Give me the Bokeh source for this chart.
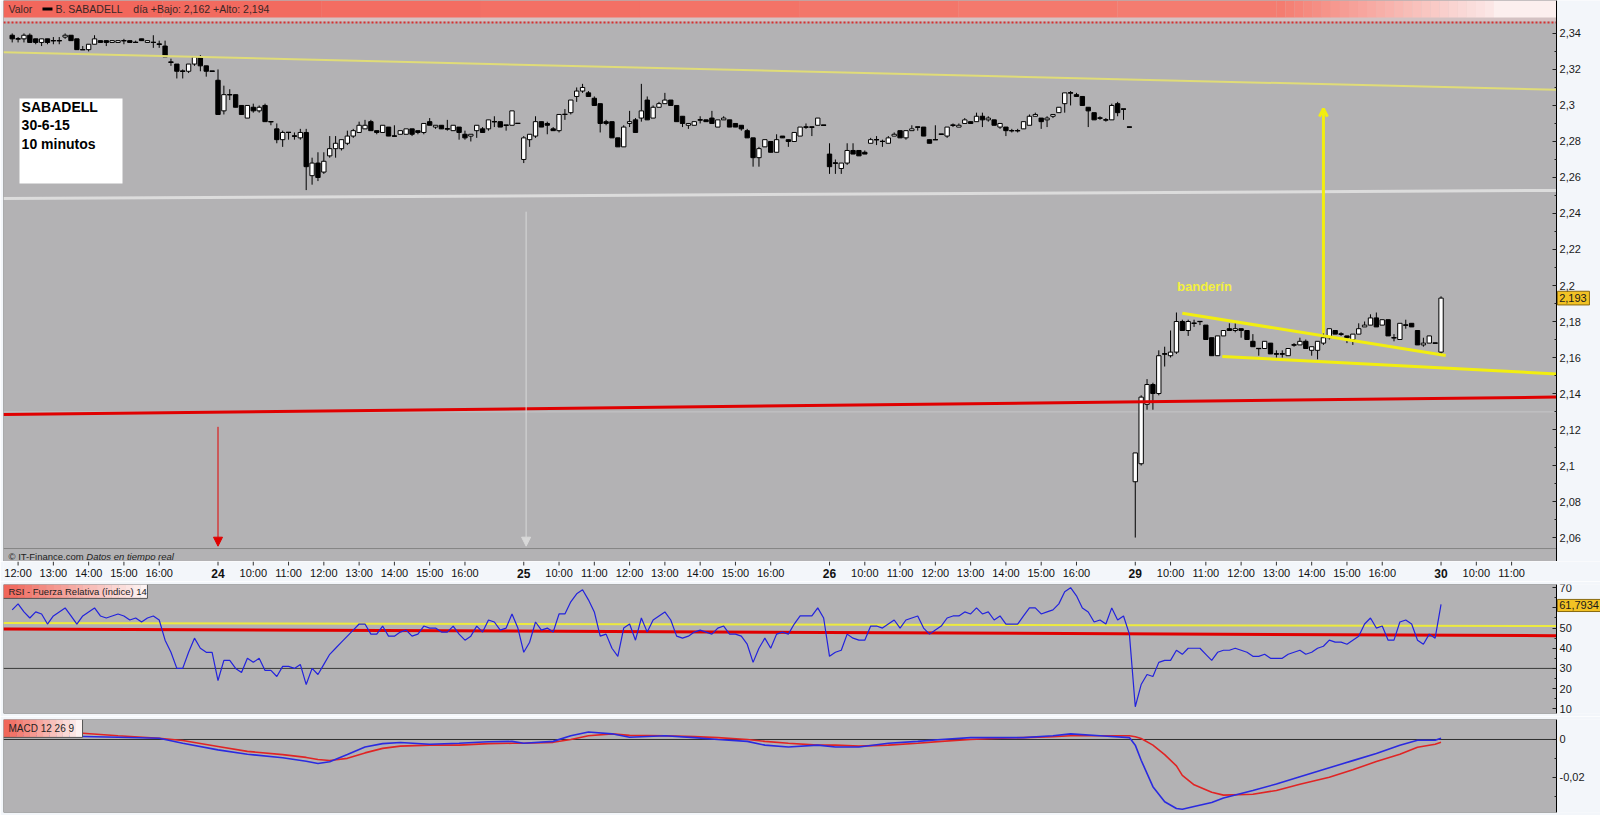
from bokeh.plotting import figure
from bokeh.layouts import column
from bokeh.models import (Range1d, FixedTicker, CustomJSTickFormatter, Arrow, NormalHead, OpenHead,
                          ColumnDataSource)
from bokeh.core.properties import value
from bokeh.embed import file_html
from bokeh.resources import INLINE

# ---------------------------------------------------------------- data
# 10-minute candles (open, high, low, close)
bars_jun23 = [
    (2.339, 2.340, 2.335, 2.337), (2.337, 2.338, 2.335, 2.337), (2.337, 2.340, 2.335, 2.339),
    (2.339, 2.340, 2.335, 2.335), (2.337, 2.337, 2.334, 2.335), (2.335, 2.337, 2.333, 2.337),
    (2.337, 2.337, 2.334, 2.335), (2.336, 2.338, 2.334, 2.336), (2.336, 2.338, 2.334, 2.336),
    (2.338, 2.340, 2.337, 2.339), (2.339, 2.339, 2.336, 2.336), (2.337, 2.337, 2.331, 2.331),
    (2.331, 2.333, 2.331, 2.331), (2.331, 2.334, 2.330, 2.334), (2.334, 2.339, 2.334, 2.337),
    (2.336, 2.336, 2.335, 2.335), (2.336, 2.336, 2.333, 2.335), (2.335, 2.336, 2.335, 2.336),
    (2.335, 2.336, 2.335, 2.336), (2.336, 2.337, 2.334, 2.336), (2.336, 2.336, 2.335, 2.335),
    (2.335, 2.336, 2.335, 2.335), (2.337, 2.337, 2.336, 2.336), (2.335, 2.336, 2.335, 2.336),
    (2.335, 2.339, 2.332, 2.335), (2.334, 2.336, 2.332, 2.334), (2.333, 2.336, 2.327, 2.327),
    (2.324, 2.326, 2.322, 2.324), (2.323, 2.323, 2.315, 2.319), (2.319, 2.320, 2.315, 2.319),
    (2.319, 2.323, 2.318, 2.323), (2.323, 2.327, 2.322, 2.327), (2.327, 2.328, 2.319, 2.322),
    (2.322, 2.322, 2.316, 2.319), (2.319, 2.319, 2.319, 2.319),
]
bars_jun24 = [
    (2.314, 2.320, 2.295, 2.295), (2.297, 2.311, 2.295, 2.306), (2.306, 2.309, 2.303, 2.306),
    (2.306, 2.306, 2.299, 2.299), (2.300, 2.300, 2.295, 2.295), (2.293, 2.300, 2.293, 2.300),
    (2.299, 2.301, 2.296, 2.297), (2.297, 2.300, 2.296, 2.299), (2.300, 2.301, 2.291, 2.291),
    (2.291, 2.291, 2.289, 2.291), (2.287, 2.290, 2.279, 2.281), (2.281, 2.286, 2.277, 2.285),
    (2.285, 2.285, 2.281, 2.285), (2.283, 2.285, 2.281, 2.283), (2.282, 2.287, 2.281, 2.285),
    (2.285, 2.287, 2.253, 2.266), (2.261, 2.271, 2.256, 2.268), (2.268, 2.274, 2.258, 2.260),
    (2.263, 2.274, 2.262, 2.269), (2.272, 2.283, 2.271, 2.276), (2.276, 2.283, 2.271, 2.279),
    (2.276, 2.281, 2.275, 2.281), (2.279, 2.286, 2.278, 2.283), (2.283, 2.287, 2.282, 2.286),
    (2.285, 2.291, 2.285, 2.289), (2.287, 2.292, 2.287, 2.289), (2.291, 2.292, 2.286, 2.286),
    (2.286, 2.286, 2.284, 2.285), (2.285, 2.289, 2.285, 2.289), (2.288, 2.288, 2.283, 2.283),
    (2.283, 2.289, 2.283, 2.283), (2.284, 2.286, 2.284, 2.286), (2.284, 2.287, 2.284, 2.287),
    (2.287, 2.287, 2.283, 2.284), (2.286, 2.286, 2.284, 2.285), (2.285, 2.290, 2.284, 2.290),
    (2.291, 2.293, 2.289, 2.289), (2.288, 2.289, 2.287, 2.289), (2.289, 2.289, 2.287, 2.287),
    (2.287, 2.292, 2.286, 2.287), (2.286, 2.289, 2.286, 2.289), (2.288, 2.288, 2.281, 2.285),
    (2.284, 2.286, 2.281, 2.282), (2.283, 2.284, 2.280, 2.284), (2.286, 2.289, 2.282, 2.289),
    (2.287, 2.288, 2.285, 2.285), (2.287, 2.292, 2.286, 2.292), (2.291, 2.294, 2.288, 2.291),
    (2.291, 2.291, 2.288, 2.288), (2.289, 2.289, 2.286, 2.289), (2.289, 2.297, 2.289, 2.297),
    (2.290, 2.290, 2.290, 2.290),
]
bars_jun25 = [
    (2.270, 2.283, 2.268, 2.282), (2.281, 2.284, 2.277, 2.284), (2.283, 2.294, 2.282, 2.291),
    (2.291, 2.291, 2.288, 2.288), (2.290, 2.291, 2.284, 2.289), (2.287, 2.288, 2.286, 2.286),
    (2.286, 2.295, 2.285, 2.295), (2.295, 2.298, 2.292, 2.295), (2.296, 2.303, 2.295, 2.303),
    (2.305, 2.310, 2.302, 2.308), (2.308, 2.312, 2.307, 2.310), (2.307, 2.308, 2.305, 2.305),
    (2.304, 2.305, 2.300, 2.300), (2.301, 2.301, 2.285, 2.290), (2.291, 2.292, 2.289, 2.290),
    (2.291, 2.291, 2.282, 2.282), (2.282, 2.282, 2.277, 2.277), (2.277, 2.289, 2.277, 2.288),
    (2.290, 2.297, 2.288, 2.291), (2.292, 2.293, 2.285, 2.285), (2.293, 2.312, 2.291, 2.297),
    (2.303, 2.305, 2.292, 2.292), (2.293, 2.300, 2.293, 2.299), (2.299, 2.302, 2.299, 2.301),
    (2.301, 2.307, 2.301, 2.303), (2.303, 2.303, 2.300, 2.300), (2.300, 2.300, 2.291, 2.291),
    (2.294, 2.294, 2.288, 2.290), (2.289, 2.290, 2.287, 2.290), (2.289, 2.291, 2.289, 2.291),
    (2.292, 2.294, 2.290, 2.292), (2.292, 2.292, 2.291, 2.291), (2.293, 2.297, 2.290, 2.290),
    (2.288, 2.292, 2.288, 2.292), (2.292, 2.294, 2.292, 2.293), (2.292, 2.292, 2.288, 2.288),
    (2.290, 2.290, 2.288, 2.288), (2.289, 2.289, 2.286, 2.287), (2.286, 2.287, 2.282, 2.282),
    (2.282, 2.282, 2.266, 2.271), (2.271, 2.277, 2.266, 2.276), (2.277, 2.281, 2.277, 2.281),
    (2.280, 2.280, 2.274, 2.274), (2.274, 2.284, 2.274, 2.281), (2.283, 2.283, 2.282, 2.282),
    (2.281, 2.281, 2.277, 2.280), (2.280, 2.285, 2.280, 2.285), (2.283, 2.288, 2.283, 2.288),
    (2.288, 2.290, 2.287, 2.288), (2.288, 2.288, 2.283, 2.288), (2.289, 2.293, 2.289, 2.293),
    (2.289, 2.289, 2.289, 2.289),
]
bars_jun26 = [
    (2.273, 2.279, 2.262, 2.266), (2.268, 2.270, 2.262, 2.268), (2.265, 2.268, 2.262, 2.268),
    (2.268, 2.279, 2.267, 2.275), (2.275, 2.279, 2.273, 2.273), (2.275, 2.275, 2.272, 2.272),
    (2.274, 2.275, 2.273, 2.273), (2.279, 2.282, 2.279, 2.281), (2.281, 2.283, 2.278, 2.281),
    (2.280, 2.281, 2.277, 2.280), (2.279, 2.283, 2.279, 2.282), (2.283, 2.285, 2.283, 2.284),
    (2.286, 2.286, 2.282, 2.282), (2.282, 2.286, 2.281, 2.286), (2.286, 2.289, 2.286, 2.287),
    (2.288, 2.288, 2.286, 2.288), (2.288, 2.288, 2.283, 2.283), (2.281, 2.281, 2.279, 2.279),
    (2.281, 2.289, 2.281, 2.281), (2.284, 2.284, 2.284, 2.284), (2.283, 2.288, 2.282, 2.288),
    (2.289, 2.290, 2.288, 2.289), (2.288, 2.290, 2.288, 2.289), (2.290, 2.293, 2.290, 2.292),
    (2.291, 2.291, 2.290, 2.290), (2.291, 2.296, 2.291, 2.294), (2.294, 2.296, 2.288, 2.292),
    (2.292, 2.294, 2.291, 2.293), (2.292, 2.292, 2.289, 2.289), (2.288, 2.290, 2.287, 2.290),
    (2.288, 2.288, 2.283, 2.286), (2.286, 2.287, 2.285, 2.286), (2.286, 2.287, 2.285, 2.286),
    (2.287, 2.291, 2.287, 2.291), (2.289, 2.295, 2.289, 2.294), (2.294, 2.296, 2.294, 2.295),
    (2.293, 2.293, 2.287, 2.291), (2.292, 2.294, 2.288, 2.293), (2.294, 2.295, 2.293, 2.295),
    (2.296, 2.299, 2.296, 2.299), (2.301, 2.307, 2.296, 2.307), (2.307, 2.308, 2.300, 2.307),
    (2.306, 2.307, 2.305, 2.305), (2.305, 2.305, 2.300, 2.300), (2.299, 2.299, 2.288, 2.297),
    (2.296, 2.296, 2.292, 2.292), (2.293, 2.294, 2.292, 2.293), (2.292, 2.293, 2.291, 2.292),
    (2.292, 2.301, 2.292, 2.300), (2.301, 2.302, 2.294, 2.296), (2.298, 2.298, 2.292, 2.298),
    (2.288, 2.288, 2.288, 2.288),
]
bars_jun29 = [
    (2.091, 2.107, 2.060, 2.107), (2.101, 2.139, 2.100, 2.138), (2.134, 2.148, 2.131, 2.145),
    (2.145, 2.146, 2.131, 2.140), (2.140, 2.164, 2.139, 2.161), (2.162, 2.166, 2.155, 2.162),
    (2.161, 2.175, 2.160, 2.163), (2.163, 2.185, 2.162, 2.180), (2.180, 2.181, 2.175, 2.175),
    (2.175, 2.181, 2.172, 2.180), (2.179, 2.181, 2.177, 2.179), (2.180, 2.180, 2.178, 2.180),
    (2.178, 2.178, 2.170, 2.170), (2.171, 2.171, 2.161, 2.161), (2.161, 2.172, 2.161, 2.172),
    (2.172, 2.175, 2.172, 2.175), (2.176, 2.179, 2.175, 2.175), (2.175, 2.179, 2.174, 2.176),
    (2.176, 2.176, 2.171, 2.175), (2.175, 2.175, 2.170, 2.170), (2.169, 2.173, 2.166, 2.166),
    (2.165, 2.165, 2.161, 2.165), (2.165, 2.169, 2.165, 2.169), (2.168, 2.168, 2.162, 2.162),
    (2.162, 2.164, 2.160, 2.162), (2.162, 2.164, 2.160, 2.162), (2.161, 2.165, 2.161, 2.165),
    (2.167, 2.168, 2.166, 2.167), (2.167, 2.171, 2.167, 2.169), (2.169, 2.170, 2.165, 2.165),
    (2.164, 2.166, 2.161, 2.166), (2.164, 2.169, 2.159, 2.169), (2.168, 2.174, 2.167, 2.171),
    (2.171, 2.176, 2.170, 2.176), (2.175, 2.175, 2.173, 2.173), (2.173, 2.174, 2.172, 2.173),
    (2.172, 2.172, 2.168, 2.171), (2.170, 2.173, 2.167, 2.173), (2.173, 2.179, 2.173, 2.176),
    (2.177, 2.180, 2.177, 2.178), (2.178, 2.184, 2.178, 2.182), (2.182, 2.185, 2.177, 2.177),
    (2.178, 2.181, 2.178, 2.181), (2.181, 2.181, 2.172, 2.172), (2.171, 2.173, 2.169, 2.171),
    (2.170, 2.179, 2.170, 2.179), (2.178, 2.181, 2.176, 2.178), (2.179, 2.179, 2.177, 2.177),
    (2.175, 2.175, 2.167, 2.167), (2.167, 2.171, 2.166, 2.168), (2.168, 2.172, 2.168, 2.172),
    (2.168, 2.168, 2.168, 2.168),
]
bars_jun30 = [(2.163, 2.194, 2.162, 2.193)]

days = ["23", "24", "25", "26", "29", "30"]
day_bars = [bars_jun23, bars_jun24, bars_jun25, bars_jun26, bars_jun29, bars_jun30]
first_hour = {"23": 12, "30": 10}
last_hour = {"30": 11}

# RSI (14) per bar
rsi_jun23 = [59, 62, 58, 55, 58, 57, 52, 56, 58, 60, 56, 52, 56, 58, 60, 56, 55, 56, 57, 56,
             54, 55, 53, 55, 56, 54, 44, 38, 30, 30, 38, 45, 40, 38, 38]
rsi_jun24 = [24, 34, 34, 30, 28, 35, 33, 35, 29, 29, 26, 31, 31, 30, 32, 22, 30, 27, 32, 37,
             40, 43, 46, 49, 52, 52, 47, 47, 51, 46, 46, 48, 49, 46, 47, 51, 50, 50, 48, 48,
             51, 47, 44, 46, 51, 48, 54, 53, 49, 50, 57, 50]
rsi_jun25 = [38, 43, 53, 49, 50, 48, 57, 57, 63, 67, 69, 64, 58, 46, 47, 40, 36, 50, 52, 44,
             55, 48, 54, 56, 58, 54, 46, 45, 46, 48, 49, 48, 47, 50, 51, 47, 47, 46, 42, 33,
             40, 45, 40, 47, 48, 47, 52, 56, 56, 56, 60, 55]
rsi_jun26 = [36, 38, 39, 47, 45, 44, 44, 51, 51, 50, 52, 54, 50, 54, 55, 56, 50, 47, 49, 51,
             55, 56, 56, 58, 57, 60, 57, 58, 54, 56, 52, 52, 52, 56, 60, 60, 57, 58, 59, 62,
             68, 70, 66, 60, 58, 53, 54, 52, 60, 54, 56, 47]
rsi_jun29 = [11, 22, 27, 26, 33, 34, 34, 39, 37, 40, 40, 40, 37, 34, 38, 39, 39, 40, 39, 38,
             36, 36, 37, 35, 35, 35, 37, 38, 39, 37, 38, 40, 41, 44, 43, 43, 42, 44, 46, 52,
             55, 50, 51, 44, 44, 53, 54, 52, 44, 42, 47, 45]
rsi_jun30 = [61.7934]

# MACD 12 26 9, read at bar positions
macd_bar = [0, 6, 12, 18, 25, 29, 35, 40, 46, 50, 52, 54, 57, 60, 63, 66, 71, 76, 81, 85,
            87, 92, 95, 98, 102, 105, 111, 116, 120, 125, 128, 132, 137, 140, 144, 149, 154, 158, 163, 167,
            172, 177, 180, 185, 190, 191, 192, 194, 196, 198, 199, 201, 204, 206, 211, 215, 219, 224, 228, 232,
            236, 239, 242, 243]
macd_line = [0.0022, 0.0020, 0.0016, 0.0012, 0.0007, -0.0020, -0.0055, -0.0078, -0.0097, -0.0115,
             -0.0127, -0.0118, -0.0080, -0.0040, -0.0022, -0.0016, -0.0025, -0.0020, -0.0012, -0.0010,
             -0.0020, -0.0010, 0.0020, 0.0040, 0.0030, 0.0012, 0.0020, 0.0010, 0.0000, -0.0010,
             -0.0030, -0.0040, -0.0030, -0.0040, -0.0040, -0.0020, -0.0010, 0.0000, 0.0010, 0.0010,
             0.0010, 0.0020, 0.0030, 0.0020, 0.0010, -0.0030, -0.0110, -0.0250, -0.0330, -0.0366,
             -0.0370, -0.0355, -0.0334, -0.0310, -0.0270, -0.0236, -0.0198, -0.0150, -0.0112, -0.0074,
             -0.0030, -0.0004, -0.0004, 0.0007]
macd_signal = [0.0035, 0.0034, 0.0033, 0.0020, 0.0007, -0.0005, -0.0037, -0.0063, -0.0080, -0.0095,
               -0.0106, -0.0111, -0.0100, -0.0071, -0.0047, -0.0035, -0.0030, -0.0030, -0.0022, -0.0020,
               -0.0020, -0.0015, 0.0000, 0.0020, 0.0030, 0.0022, 0.0020, 0.0015, 0.0010, 0.0000,
               -0.0010, -0.0020, -0.0030, -0.0030, -0.0035, -0.0030, -0.0020, -0.0010, 0.0000, 0.0005,
               0.0010, 0.0015, 0.0020, 0.0020, 0.0020, 0.0015, 0.0005, -0.0030, -0.0080, -0.0140,
               -0.0190, -0.0240, -0.0280, -0.0295, -0.0290, -0.0270, -0.0237, -0.0200, -0.0160, -0.0117,
               -0.0078, -0.0041, -0.0025, -0.0015]

# hand-drawn lines: values at the left and right edges of the chart
trend_yellow = [2.3296, 2.3087]
trend_silver = [2.2483, 2.2528]
trend_red = [2.1283, 2.1380]
flag_upper_bar = [199.0, 243.8]
flag_upper = [2.1846, 2.1611]
flag_lower_bar = [205.8, 262.64]
flag_lower = [2.1606, 2.1509]
target_bar, target_from, target_to = 223.0, 2.1733, 2.2982
rsi_yellow = [52.5, 51.0]
rsi_red = [49.6, 46.2]
rsi_level = 30
last_price = 2.193
last_rsi = 61.7934

price_ticks = [2.06, 2.08, 2.10, 2.12, 2.14, 2.16, 2.18, 2.20, 2.22, 2.24, 2.26, 2.28, 2.30, 2.32, 2.34]
price_minor = [2.07, 2.09, 2.11, 2.13, 2.15, 2.17, 2.19, 2.21, 2.23, 2.25, 2.27, 2.29, 2.31, 2.33]
rsi_ticks = [10, 20, 30, 40, 50, 60, 70]
rsi_minor = [15, 25, 35, 45, 55, 65]
macd_ticks = [0.0, -0.02]
macd_minor = [-0.01, -0.03]

# ---------------------------------------------------------------- build series
k, o_, h_, l_, c_ = [], [], [], [], []
day_start = []
n = 0
for bars in day_bars:
    day_start.append(n)
    for (o, h, l, c) in bars:
        k.append(n); o_.append(o); h_.append(h); l_.append(l); c_.append(c)
        n += 1
day_start[0] = day_start[1] - 52   # 23 June opened 52 bars before 24 June
rsi_all = rsi_jun23 + rsi_jun24 + rsi_jun25 + rsi_jun26 + rsi_jun29 + rsi_jun30

BPH = 6  # bars per hour
hour_k, hour_txt, dayk, daytxt = [], [], [], []
for d, ds in zip(days, day_start):
    if d != "23":
        dayk.append(ds); daytxt.append(d)
    for hh in range(first_hour.get(d, 10), last_hour.get(d, 16) + 1):
        hour_k.append(ds + BPH * (hh - 9)); hour_txt.append("%d:00" % hh)

GRAY = "#b3b2b4"
LIGHT = "#f3f6fa"
EDGE = "#6e6e6e"
FONT = "Liberation Sans"
X0, KAX, XEND = -1.48, 262.64, 270.12   # left edge, price-axis position, right edge (bar units)
FW = 1597

fmt_code = r"""
if (tick == %s) return '';
let s = tick.toFixed(2);
s = s.replace(/\.?0+$/, '');
return s.replace('.', ',');
"""

figs = []


def mk(height, yr, top=0, bottom=0, yaxis=True):
    f = figure(frame_width=FW, frame_height=height,
               x_range=Range1d(X0, XEND) if not figs else figs[0].x_range,
               y_range=yr, output_backend="svg", toolbar_location=None,
               x_axis_location=None, y_axis_location="right" if yaxis else None,
               min_border_left=3, min_border_right=0, min_border_top=top, min_border_bottom=bottom,
               background_fill_color=LIGHT, border_fill_color=LIGHT, outline_line_color=None)
    f.grid.visible = False
    figs.append(f)
    if yaxis:
        # plotting area up to the price axis, axis drawn at its right edge
        f.quad(left=[X0], right=[KAX], bottom=[yr.start], top=[yr.end], fill_color=GRAY,
               line_color=EDGE, line_width=1)
    return f


def style_axis(fig, ticks, minor, hide="null"):
    ax = fig.yaxis[0]
    ax.fixed_location = KAX
    ax.ticker = FixedTicker(ticks=ticks, minor_ticks=minor)
    ax.formatter = CustomJSTickFormatter(code=fmt_code % hide)
    ax.major_tick_in = 4
    ax.major_tick_out = 0
    ax.minor_tick_in = 2
    ax.minor_tick_out = 0
    ax.major_tick_line_color = "#202020"
    ax.minor_tick_line_color = "#202020"
    ax.axis_line_color = "#000000"
    ax.major_label_text_font = FONT
    ax.major_label_text_font_size = "11px"
    ax.major_label_text_color = "#1a1a1a"
    ax.major_label_standoff = 3


def hline(fig, y, **kw):
    fig.line([X0, KAX], [y, y], **kw)


def blend(c0, c1, t):
    a = [int(c0[i:i + 2], 16) for i in (1, 3, 5)]
    b = [int(c1[i:i + 2], 16) for i in (1, 3, 5)]
    return "#%02x%02x%02x" % tuple(int(round(a[i] + (b[i] - a[i]) * t)) for i in range(3))


def gradient(fig, x0, x1, y0, y1, c0, c1, steps=24, border=None):
    w = (x1 - x0) / steps
    fig.quad(left=[x0 + i * w for i in range(steps)], right=[x0 + (i + 1) * w + 0.02 for i in range(steps)],
             bottom=y0, top=y1, fill_color=[blend(c0, c1, i / (steps - 1)) for i in range(steps)],
             line_color=None)
    if border:
        fig.line([x1, x1, x0], [y1, y0, y0], line_color=border, line_width=1)


def value_box(fig, y, half, txt):
    fig.quad(left=[KAX + 0.15], right=[KAX + 5.6 if len(txt) < 6 else XEND + 1], bottom=[y - half],
             top=[y + half], fill_color="#f2c224", line_color="#8a6a10", line_width=1)
    fig.text(x=[KAX + 0.45], y=[y], text=[txt], text_font=value(FONT), text_font_size="11px",
             text_color="#1a1a1a", text_baseline="middle")


# ---------------------------------------------------------------- main price panel
p = mk(561, Range1d(2.0467, 2.3583))

hline(p, 2.1298, line_color="#c6c5c7", line_width=1)
hline(p, 2.0539, line_color="#858585", line_width=1)

fill = ["#ffffff" if c >= o else "#000000" for o, c in zip(o_, c_)]
src = ColumnDataSource(dict(k=k, o=o_, h=h_, l=l_, c=c_, top=[max(a, b) for a, b in zip(o_, c_)],
                            bottom=[min(a, b) for a, b in zip(o_, c_)], fill=fill))
p.segment(x0="k", y0="l", x1="k", y1="h", source=src, line_color="#000000", line_width=1)
p.vbar(x="k", width=0.74, top="top", bottom="bottom", source=src, fill_color="fill",
       line_color="#000000", line_width=1)
doji = [i for i in range(len(k)) if abs(c_[i] - o_[i]) < 0.0005]
p.segment(x0=[k[i] - 0.42 for i in doji], x1=[k[i] + 0.42 for i in doji], y0=[o_[i] for i in doji],
          y1=[o_[i] for i in doji], line_color="#000000", line_width=1.3)

# hand drawn lines
p.line([X0, KAX], trend_silver, line_color="#dcdcdc", line_width=3)
p.line([X0, KAX], trend_yellow, line_color="#e0dc78", line_width=2)
p.line([X0, KAX], trend_red, line_color="#e00000", line_width=3)
p.line(flag_upper_bar, flag_upper, line_color="#f2ee10", line_width=3)
p.line(flag_lower_bar, flag_lower, line_color="#f2ee10", line_width=3)
p.add_layout(Arrow(end=OpenHead(line_color="#f2ee10", line_width=3, size=8),
                   x_start=target_bar, y_start=target_from, x_end=target_bar, y_end=target_to,
                   line_color="#f2ee10", line_width=3))
p.add_layout(Arrow(end=NormalHead(fill_color="#e00000", line_color="#e00000", size=9),
                   x_start=day_start[1], y_start=2.1215, x_end=day_start[1], y_end=2.0552,
                   line_color="#e00000", line_width=1))
p.add_layout(Arrow(end=NormalHead(fill_color="#d8d8d8", line_color="#d8d8d8", size=9),
                   x_start=day_start[2] + 0.4, y_start=2.241, x_end=day_start[2] + 0.4, y_end=2.0552,
                   line_color="#d8d8d8", line_width=1))
p.text(x=[198.1], y=[2.1995], text=["banderín"], text_color="#f4f03c", text_font=value(FONT),
       text_font_size="13px", text_font_style="bold", text_baseline="middle")

# info box
p.quad(left=[1.24], right=[18.76], bottom=[2.2567], top=[2.3039], fill_color="#ffffff", line_color=None)
p.text(x=[1.6, 1.6, 1.6], y=[2.2991, 2.2889, 2.2787], text=["SABADELL", "30-6-15", "10 minutos"],
       text_color="#000000", text_font=value(FONT), text_font_size="14px", text_font_style="bold",
       text_baseline="middle")

# header bar
p.quad(left=[X0], right=[KAX], bottom=[2.3467], top=[2.3583], fill_color="#d4c2c3", line_color=None)
gradient(p, X0, 215, 2.3489, 2.3583, "#f2675c", "#f47c70", steps=8)
gradient(p, 215, 252, 2.3489, 2.3583, "#f47c70", "#fbe6e5", steps=24)
p.quad(left=[252], right=[KAX], bottom=[2.3489], top=[2.3583], fill_color="#fcefee", line_color=None)
p.line([X0, KAX], [2.3461, 2.3461], line_color="#d83030", line_width=2, line_dash="2 2")
p.quad(left=[5.15], right=[6.85], bottom=[2.3528], top=[2.3544], fill_color="#000000", line_color=None)
p.text(x=[-0.63, 7.36, 20.6], y=[2.3536] * 3, text=["Valor", "B. SABADELL", "día +Bajo: 2,162 +Alto: 2,194"],
       text_color="#3a2626", text_font=value(FONT), text_font_size="10.5px", text_baseline="middle")
p.text(x=[-0.63], y=[2.0494], text=["© IT-Finance.com"], text_color="#222222", text_font=value(FONT),
       text_font_size="9.5px", text_baseline="middle")
p.text(x=[12.6], y=[2.0494], text=["Datos en tiempo real"], text_color="#222222", text_font=value(FONT),
       text_font_size="9.5px", text_font_style="italic", text_baseline="middle")
value_box(p, last_price, 0.0038, "2,193")
style_axis(p, price_ticks, price_minor)

# ---------------------------------------------------------------- time strip
s = mk(20, Range1d(0, 1), yaxis=False)
s.segment(x0=hour_k + dayk, x1=hour_k + dayk, y0=1, y1=0.8, line_color="#303030", line_width=1)
s.text(x=hour_k, y=[0.42] * len(hour_k), text=hour_txt, text_align="center", text_baseline="middle",
       text_font=value(FONT), text_font_size="11px", text_color="#111111")
s.text(x=dayk, y=[0.42] * len(dayk), text=daytxt, text_align="center", text_baseline="middle",
       text_font=value(FONT), text_font_size="12px", text_font_style="bold", text_color="#111111")

# ---------------------------------------------------------------- RSI
r = mk(129, Range1d(7.65, 71.6), top=3, bottom=3)
hline(r, rsi_level, line_color="#3a3a3a", line_width=1)
r.line([X0, KAX], rsi_yellow, line_color="#ecea40", line_width=2)
r.line([X0, KAX], rsi_red, line_color="#e00000", line_width=3)
r.line(k, rsi_all, line_color="#2222dd", line_width=1.2)
gradient(r, X0, 23.0, 64.7, 71.6, "#f0665a", "#fdf3f2", steps=20, border="#555555")
r.text(x=[-0.63], y=[68.2], text=["RSI - Fuerza Relativa (índice) 14"], text_color="#222222",
       text_font=value(FONT), text_font_size="9.5px", text_baseline="middle")
value_box(r, 61.2, 3.0, "61,7934")
style_axis(r, rsi_ticks, rsi_minor, hide="60")

# ---------------------------------------------------------------- MACD
m = mk(93, Range1d(-0.0387, 0.0106), top=3, bottom=3)
hline(m, 0, line_color="#303030", line_width=1)
m.line(macd_bar, macd_signal, line_color="#e02424", line_width=1.6)
m.line(macd_bar, macd_line, line_color="#2a2ae0", line_width=1.6)
gradient(m, X0, 11.96, 0.0011, 0.0106, "#f0665a", "#fdf3f2", steps=12, border="#555555")
m.text(x=[-0.63], y=[0.0058], text=["MACD 12 26 9"], text_color="#222222",
       text_font=value(FONT), text_font_size="10px", text_baseline="middle")
style_axis(m, macd_ticks, macd_minor)

layout = column(p, s, r, m, spacing=0)
open("out.html", "w").write(file_html(layout, INLINE))
